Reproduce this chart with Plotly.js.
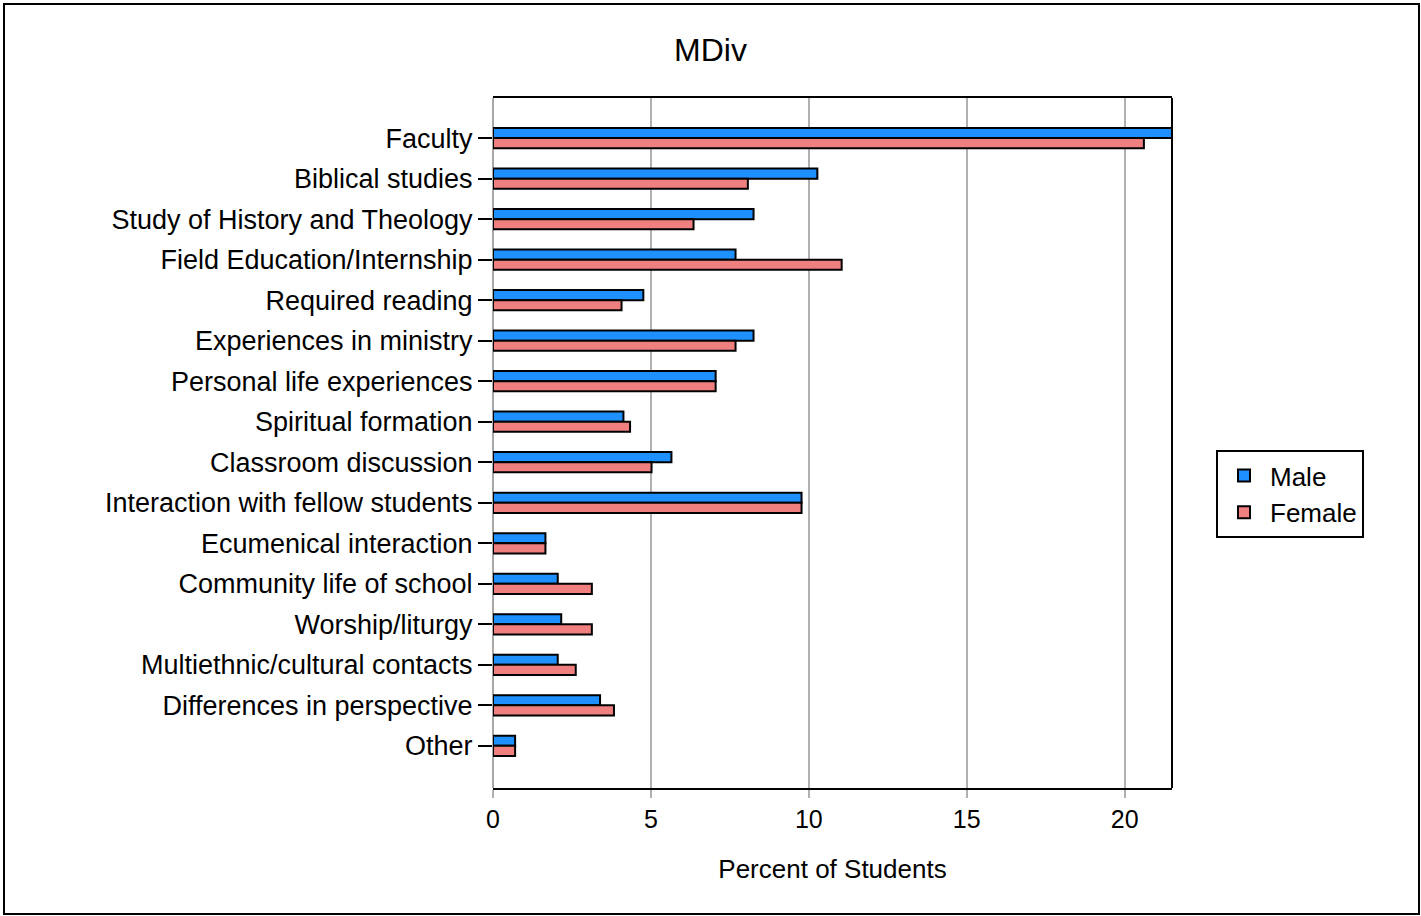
<!DOCTYPE html>
<html>
<head>
<meta charset="utf-8">
<script src="https://cdn.plot.ly/plotly-3.0.1.min.js"></script>
<style>
html,body{margin:0;padding:0;background:#fff;}
#chart{width:1421px;height:916px;}
#frame{position:absolute;left:3px;top:3px;width:1413px;height:908px;border:2px solid #000;pointer-events:none;box-sizing:content-box;}
</style>
</head>
<body>
<div id="chart"></div>
<div id="frame"></div>
<script>
const categories = [
  "Faculty",
  "Biblical studies",
  "Study of History and Theology",
  "Field Education/Internship",
  "Required reading",
  "Experiences in ministry",
  "Personal life experiences",
  "Spiritual formation",
  "Classroom discussion",
  "Interaction with fellow students",
  "Ecumenical interaction",
  "Community life of school",
  "Worship/liturgy",
  "Multiethnic/cultural contacts",
  "Differences in perspective",
  "Other"
];
const maleValues   = [21.6, 10.27, 8.25, 7.68, 4.76, 8.25, 7.05, 4.13, 5.65, 9.77, 1.66, 2.05, 2.16, 2.05, 3.39, 0.70];
const femaleValues = [20.61, 8.07, 6.35, 11.04, 4.07, 7.68, 7.05, 4.34, 5.02, 9.77, 1.66, 3.13, 3.13, 2.62, 3.83, 0.70];
const seriesNames = ["Male", "Female"];
const xTicks = [0, 5, 10, 15, 20];

const font = "Liberation Sans, Arial, sans-serif";

const traces = [
  {type:"bar", orientation:"h", name:seriesNames[0], y:categories, x:maleValues,
   marker:{color:"#1E90FF", line:{color:"#000", width:2}}, cliponaxis:true},
  {type:"bar", orientation:"h", name:seriesNames[1], y:categories, x:femaleValues,
   marker:{color:"#F08080", line:{color:"#000", width:2}}, cliponaxis:true}
];

const layout = {
  width:1421, height:916,
  margin:{l:493, r:249, t:98, b:128, pad:0},
  paper_bgcolor:"#fff", plot_bgcolor:"#fff",
  font:{family:font, color:"#000", size:26},
  title:{text:"MDiv", font:{family:font, size:32, color:"#000"},
         x:0.5, xref:"container", xanchor:"center", y:1-50/916, yref:"container", yanchor:"middle"},
  barmode:"group", bargap:0.5, bargroupgap:0,
  xaxis:{range:[0,21.5], tickvals:xTicks, ticktext:xTicks.map(String),
         showgrid:true, gridcolor:"#b0b0b0", gridwidth:2,
         zeroline:true, zerolinecolor:"#a8a8a8", zerolinewidth:2,
         showline:true, linecolor:"#000", linewidth:2, mirror:true,
         ticks:"outside", ticklen:8, tickcolor:"#b0b0b0", tickwidth:2,
         tickfont:{family:font, size:25, color:"#000"},
         title:{text:"Percent of Students", font:{family:font, size:26, color:"#000"}, standoff:28}},
  yaxis:{type:"category", categoryorder:"array", categoryarray:categories,
         range:[16.04, -0.99], showgrid:false, zeroline:false, showline:false,
         ticks:"outside", ticklen:14, tickcolor:"#000", tickwidth:2,
         tickfont:{family:font, size:27, color:"#000"}},
  shapes:[
    {type:"line", xref:"paper", yref:"paper", x0:1, x1:1, y0:0, y1:1, line:{color:"#000", width:2}}
  ],
  legend:{x:(1216-493)/679, xanchor:"left", y:(788-450)/690, yanchor:"top",
          bordercolor:"#000", borderwidth:2, bgcolor:"#fff",
          font:{family:font, size:26, color:"#000"}, traceorder:"normal",
          itemwidth:42, tracegroupgap:4},
  showlegend:true
};

Plotly.newPlot("chart", traces, layout, {displayModeBar:false, staticPlot:true});
</script>
</body>
</html>
